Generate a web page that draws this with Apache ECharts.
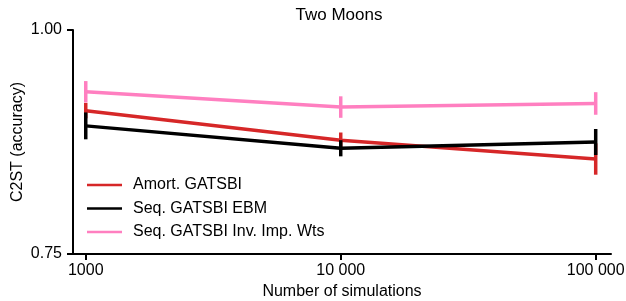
<!DOCTYPE html>
<html>
<head>
<meta charset="utf-8">
<script src="https://cdn.jsdelivr.net/npm/echarts@6/dist/echarts.min.js"></script>
<style>
  html, body { margin: 0; padding: 0; background: #fff; }
  #chart { width: 626px; height: 301px; }
</style>
</head>
<body>
<div id="chart"></div>
<script>
// 模拟次数（对数横轴）
const simulations = [1000, 10000, 100000]
const simLabels = ['1000', '10 000', '100 000']
const seriesNames = ['Amort. GATSBI', 'Seq. GATSBI EBM', 'Seq. GATSBI Inv. Imp. Wts']
const seriesColors = ['#d62728', '#000000', '#ff7fc0']
// C2ST 均值与误差
const amortMean = [0.910, 0.877, 0.856]
const amortErr = [0.0086, 0.0086, 0.0175]
const ebmMean = [0.893, 0.868, 0.875]
const ebmErr = [0.015, 0.009, 0.0145]
const invMean = [0.931, 0.914, 0.918]
const invErr = [0.012, 0.012, 0.0126]
const yTicks = [0.75, 1.00]

const means = [amortMean, ebmMean, invMean]
const errs = [amortErr, ebmErr, invErr]
const logX = simulations.map((n) => Math.log10(n))
const FONT = 'Liberation Sans'

const chart = echarts.init(document.getElementById('chart'), null, { renderer: 'canvas' })

const lineSeries = means.map((m, i) => ({
  name: seriesNames[i],
  type: 'line',
  symbol: 'none',
  z: 2 + i * 2,
  data: m.map((v, k) => [logX[k], v]),
  lineStyle: { color: seriesColors[i], width: 3.5 },
  itemStyle: { color: seriesColors[i] }
}))

// 误差线（无端帽的竖线）
const errSeries = means.map((m, i) => ({
  name: seriesNames[i],
  type: 'custom',
  z: 3 + i * 2,
  data: m.map((v, k) => [logX[k], v - errs[i][k], v + errs[i][k]]),
  renderItem (params, api) {
    const lo = api.coord([api.value(0), api.value(1)])
    const hi = api.coord([api.value(0), api.value(2)])
    return {
      type: 'line',
      shape: { x1: lo[0], y1: lo[1], x2: hi[0], y2: hi[1] },
      style: { stroke: seriesColors[i], lineWidth: 3.5 }
    }
  }
}))

const axisCommon = {
  axisLine: { lineStyle: { color: '#000', width: 2 } },
  axisTick: { show: true, length: 6, lineStyle: { color: '#000', width: 2 } },
  axisLabel: { color: '#000', fontSize: 16, fontFamily: FONT },
  splitLine: { show: false }
}

chart.setOption({
  animation: false,
  title: {
    text: 'Two Moons',
    left: 334,
    top: 2,
    textAlign: 'center',
    textStyle: { fontSize: 17, fontWeight: 'normal', color: '#000', fontFamily: FONT }
  },
  grid: { left: 73, right: 15, top: 30, bottom: 47, containLabel: false, outerBoundsMode: 'none' },
  legend: {
    data: seriesNames.map((n, i) => ({ name: n, icon: 'rect', itemStyle: { color: seriesColors[i] } })),
    orient: 'vertical',
    left: 87,
    top: 177,
    padding: 0,
    itemWidth: 35,
    itemHeight: 2.5,
    itemGap: 7.5,
    textStyle: { fontSize: 16, lineHeight: 16, color: '#000', fontFamily: FONT, padding: [0, 0, 0, 6] }
  },
  xAxis: {
    ...axisCommon,
    type: 'value',
    min: 2.95,
    max: 5.06,
    name: 'Number of simulations',
    nameLocation: 'middle',
    nameGap: 30,
    nameMoveOverlap: false,
    nameTextStyle: { fontSize: 16, color: '#000', fontFamily: FONT },
    axisTick: { ...axisCommon.axisTick, customValues: logX },
    axisLabel: {
      ...axisCommon.axisLabel,
      margin: 9,
      customValues: logX,
      formatter: (v) => simLabels[logX.findIndex((x) => Math.abs(x - v) < 1e-6)]
    }
  },
  yAxis: {
    ...axisCommon,
    type: 'value',
    min: 0.75,
    max: 1.0,
    interval: 0.25,
    name: 'C2ST (accuracy)',
    nameLocation: 'middle',
    nameGap: 47,
    nameMoveOverlap: false,
    nameTextStyle: { fontSize: 16, color: '#000', fontFamily: FONT },
    axisTick: { ...axisCommon.axisTick, customValues: yTicks },
    axisLabel: {
      ...axisCommon.axisLabel,
      margin: 11,
      customValues: yTicks,
      formatter: (v) => v.toFixed(2)
    }
  },
  series: [...lineSeries, ...errSeries]
})
</script>
</body>
</html>
